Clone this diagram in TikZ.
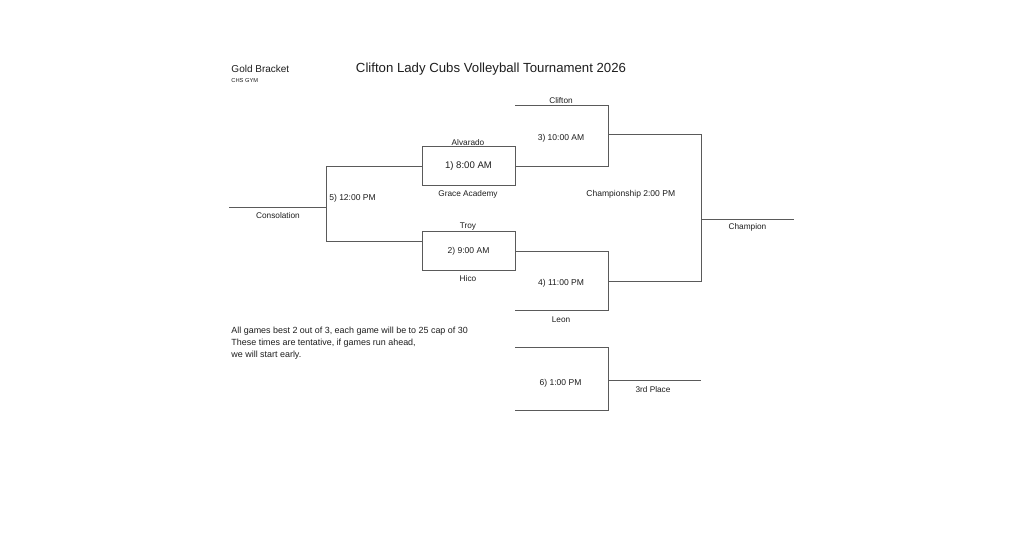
\documentclass[tikz,border=0pt]{standalone}
\usepackage{fontspec}
\setmainfont{Liberation Sans}
\usetikzlibrary{positioning, calc}
\definecolor{cline}{HTML}{5A5A5A}
\definecolor{ctext}{HTML}{1E1E1E}
\tikzset{
  every picture/.style={font=\fontsize{6.2}{7.4}\selectfont, line width=0.7pt},
  bracket/.style={draw=cline},
  game/.style={draw=cline, minimum width=69.75pt, minimum height=29.25pt, inner sep=0pt, text=ctext},
  team/.style={text=ctext, inner sep=1pt, yshift=-1.1pt},
  slot/.style={text=ctext, inner sep=1pt, yshift=-1.1pt, font=\fontsize{6.4}{7.6}\selectfont},
  heading/.style={text=ctext, inner sep=0pt, yshift=-0.8pt, font=\fontsize{9.9}{12}\selectfont},
  note/.style={text=ctext, inner sep=0pt, yshift=-0.8pt, align=left, font=\fontsize{6.7}{9.2}\selectfont},
}

\begin{document}
\begin{tikzpicture}[x=0.75pt, y=-0.75pt]
  \fill[white] (0,0) rectangle (1024,538);
  \useasboundingbox (0,0) rectangle (1024,538);
  % header
  \node[heading] (title) at (491,68) {Clifton Lady Cubs Volleyball Tournament 2026};
  \node[heading, anchor=west, font=\fontsize{7.5}{9}\selectfont] (gold) at (231,68) {Gold Bracket};
  \node[heading, anchor=west, font=\fontsize{4.3}{5}\selectfont] (gym) at (231,79) {CHS GYM};
  % first round
  \node[game, font=\fontsize{7.2}{8.6}\selectfont] (g1) at (468.5,166.3) {1) 8:00 AM};
  \node[game, font=\fontsize{6.4}{7.6}\selectfont] (g2) at (468.5,251) {2) 9:00 AM};
  \node[team] (alv) at (468,140.6) {Alvarado};
  \node[team] (grace) at (468,192.7) {Grace Academy};
  \node[team] (troy) at (468,225.5) {Troy};
  \node[team] (hico) at (468,277) {Hico};
  % bracket corners
  \coordinate (cons) at (229,207);
  \coordinate (s5t) at (326,166.3);
  \coordinate (s5b) at (326,241);
  \coordinate (clif) at (515,105.7);
  \coordinate (s3t) at (608,105.7);
  \coordinate (s3b) at (608,166.3);
  \coordinate (s3o) at (608,134.3);
  \coordinate (leon) at (515,310.7);
  \coordinate (s4t) at (608,251);
  \coordinate (s4b) at (608,310.7);
  \coordinate (s4o) at (608,281);
  \coordinate (fint) at (701,134.3);
  \coordinate (finb) at (701,281);
  \coordinate (champ) at (794,219);
  \coordinate (s6l) at (515,347.7);
  \coordinate (s6t) at (608,347.7);
  \coordinate (s6b) at (608,410.7);
  \coordinate (s6r) at (515,410.7);
  \coordinate (s6o) at (608,380);
  \coordinate (third) at (701,380);
  % consolation game
  \draw[bracket] (cons) -- (cons -| s5t);
  \draw[bracket] (g1.west) -- (s5t) -- (s5b) -- (s5b -| g2.west);
  % semifinals
  \draw[bracket] (clif) -- (s3t) -- (s3b) -- (g1.east);
  \draw[bracket] (g2.east) -- (s4t) -- (s4b) -- (leon);
  % final
  \draw[bracket] (s3o) -- (fint) -- (finb) -- (s4o);
  \draw[bracket] (champ -| fint) -- (champ);
  % third place
  \draw[bracket] (s6l) -- (s6t) -- (s6b) -- (s6r);
  \draw[bracket] (s6o) -- (third);
  % labels
  \node[team] (clifl) at (561,99) {Clifton};
  \node[team] (leonl) at (561,318.3) {Leon};
  \node[team] (consl) at (278,214) {Consolation};
  \node[slot, anchor=west] (t5) at (327.5,197.3) {5) 12:00 PM};
  \node[slot] (t3) at (561,137.3) {3) 10:00 AM};
  \node[slot] (t4) at (561,281.7) {4) 11:00 PM};
  \node[slot] (tc) at (630.8,192.7) {Championship 2:00 PM};
  \node[team] (champl) at (747.5,226) {Champion};
  \node[slot] (t6) at (560.5,382) {6) 1:00 PM};
  \node[team] (thirdl) at (653,387.7) {3rd Place};
  % notes
  \node[note, anchor=west] (rules) at (231,342.3) {All games best 2 out of 3, each game will be to 25 cap of 30\\These times are tentative, if games run ahead,\\we will start early.};
\end{tikzpicture}
\end{document}
